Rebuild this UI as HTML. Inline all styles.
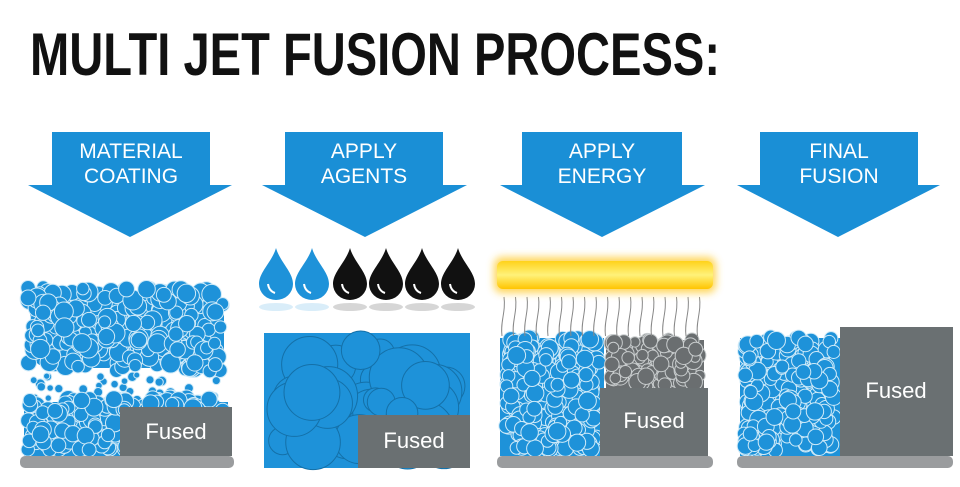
<!DOCTYPE html>
<html><head><meta charset="utf-8"><style>
html,body{margin:0;padding:0;background:#fff;width:960px;height:487px;overflow:hidden}
svg{display:block}
text{font-family:"Liberation Sans",sans-serif}
</style></head><body>
<svg id="s" width="960" height="487" viewBox="0 0 960 487" xmlns="http://www.w3.org/2000/svg">
<defs>
<filter id="glow" x="-20%" y="-80%" width="140%" height="260%"><feGaussianBlur stdDeviation="4"/></filter>
<linearGradient id="yb" x1="0" y1="0" x2="0" y2="1"><stop offset="0" stop-color="#ffd21a"/><stop offset="0.5" stop-color="#fff27a"/><stop offset="1" stop-color="#ffc400"/></linearGradient>
</defs>
<text x="30" y="75" font-size="60" font-weight="bold" fill="#111" textLength="690" lengthAdjust="spacingAndGlyphs">MULTI JET FUSION PROCESS:</text>
<g fill="#1a8fd6">
<polygon points="52,132 210,132 210,185 232,185 130,237 28,185 52,185"/>
<polygon points="285,132 443,132 443,185 467,185 365,237 262,185 285,185"/>
<polygon points="522,132 682,132 682,185 705,185 602,237 500,185 522,185"/>
<polygon points="760,132 918,132 918,185 940,185 838,237 737,185 760,185"/>
</g>
<g fill="#fff" font-size="21" text-anchor="middle">
<text x="131" y="158">MATERIAL</text><text x="131" y="183">COATING</text>
<text x="364" y="158">APPLY</text><text x="364" y="183">AGENTS</text>
<text x="602" y="158">APPLY</text><text x="602" y="183">ENERGY</text>
<text x="839" y="158">FINAL</text><text x="839" y="183">FUSION</text>
</g>
<g id="parts"></g>
<g fill="#9a9c9e">
<rect x="20" y="456" width="214" height="12" rx="5"/>
<rect x="497" y="456" width="216" height="12" rx="5"/>
<rect x="737" y="456" width="216" height="12" rx="5"/>
</g>
<g id="top"></g>
<rect x="494" y="257" width="222" height="36" rx="8" fill="#ffcc33" filter="url(#glow)" opacity="0.8"/>
<rect x="497" y="261" width="216" height="28" rx="6" fill="url(#yb)"/>
</svg>
<script>
var NS="http://www.w3.org/2000/svg";
var P=document.getElementById("parts"),T=document.getElementById("top");
var seed=7;function r(){seed=(seed*16807)%2147483647;return seed/2147483647;}
function c(g,x,y,rad,f,s,sw){var e=document.createElementNS(NS,"circle");e.setAttribute("cx",x);e.setAttribute("cy",y);e.setAttribute("r",rad);e.setAttribute("fill",f);e.setAttribute("stroke",s);e.setAttribute("stroke-width",sw||1);g.appendChild(e);}
function field(g,x0,y0,x1,y1,rmin,rmax,n,f,s,sw){for(var i=0;i<n;i++){var rad=rmin+r()*(rmax-rmin);c(g,x0+rad+r()*(x1-x0-2*rad),y0+rad+r()*(y1-y0-2*rad),rad,f,s,sw);}}
function rect(g,x,y,w,h,f,rx){var e=document.createElementNS(NS,"rect");e.setAttribute("x",x);e.setAttribute("y",y);e.setAttribute("width",w);e.setAttribute("height",h);e.setAttribute("fill",f);if(rx)e.setAttribute("rx",rx);g.appendChild(e);}
function txt(g,x,y,s){var e=document.createElementNS(NS,"text");e.setAttribute("x",x);e.setAttribute("y",y);e.setAttribute("fill","#fff");e.setAttribute("font-size","22");e.setAttribute("text-anchor","middle");e.textContent=s;g.appendChild(e);}
var B="#1e92d9",W="#cfeaf8";
rect(P,30,296,194,72,B,20);
field(P,20,280,230,378,6,10,260,B,W);
field(P,24,372,226,410,3,5,40,B,W);
rect(P,24,402,204,54,B);
field(P,20,390,232,458,6,9,220,B,W);
rect(T,120,407,112,49,"#6a7072");txt(T,176,439,"Fused");
var dx=[276,312,350,386,422,458];
for(var i=0;i<6;i++){var x=dx[i],col=i<2?B:"#111";
var p=document.createElementNS(NS,"path");p.setAttribute("d","M"+x+",248 C"+(x+4)+",262 "+(x+17)+",272 "+(x+17)+",284 A17,16 0 0 1 "+(x-17)+",284 C"+(x-17)+",272 "+(x-4)+",262 "+x+",248Z");p.setAttribute("fill",col);P.appendChild(p);
var e=document.createElementNS(NS,"ellipse");e.setAttribute("cx",x);e.setAttribute("cy",307);e.setAttribute("rx",17);e.setAttribute("ry",4);e.setAttribute("fill",i<2?"#bfe1f5":"#bbb");e.setAttribute("opacity","0.6");P.appendChild(e);
var h=document.createElementNS(NS,"path");h.setAttribute("d","M"+(x-8)+",284 q1,7 7,9");h.setAttribute("stroke","#fff");h.setAttribute("stroke-width","2");h.setAttribute("fill","none");P.appendChild(h);}
rect(P,264,333,206,135,B);
field(P,262,330,472,470,12,30,55,B,"#1470a8",1);
rect(T,358,415,112,53,"#6a7072");txt(T,414,448,"Fused");
rect(P,500,338,104,118,B);
field(P,498,330,606,458,6,9,230,B,W);
rect(P,606,340,98,50,"#6a6e70");
field(P,604,333,706,392,5,9,110,"#6a6e70","#c8cccd");
rect(T,600,388,108,68,"#6a7072");txt(T,654,428,"Fused");
for(var k=0;k<18;k++){var x=502+k*11.5;var p=document.createElementNS(NS,"path");p.setAttribute("d","M"+x+",336 C"+(x-2)+",322 "+(x+4)+",312 "+(x+2)+",297");p.setAttribute("stroke","#888");p.setAttribute("fill","none");p.setAttribute("stroke-width","1");P.appendChild(p);}
rect(P,740,338,100,118,B);
field(P,737,330,842,458,6,9,220,B,W);
rect(T,840,327,113,129,"#6a7072");txt(T,896,398,"Fused");
</script>
</body></html>
